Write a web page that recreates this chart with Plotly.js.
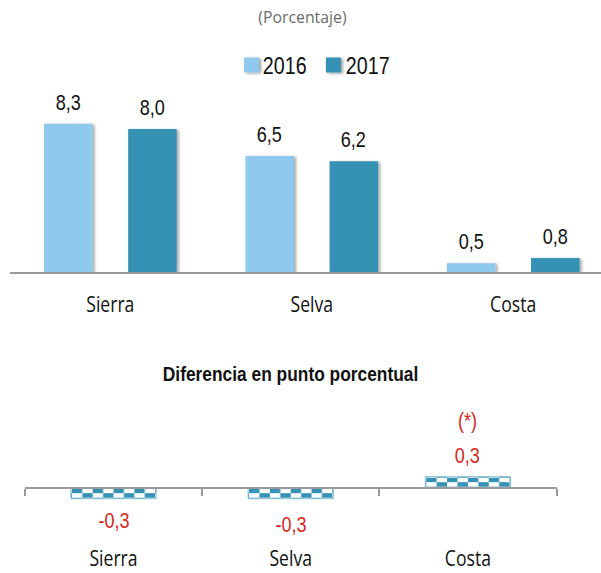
<!DOCTYPE html>
<html><head><meta charset="utf-8">
<script src="https://cdn.plot.ly/plotly-3.0.1.min.js"></script>
<style>html,body{margin:0;padding:0;background:#fff}#chart{width:601px;height:573px}</style>
</head><body><div id="chart"></div>
<script>
const regions = ['Sierra', 'Selva', 'Costa'];
const years = ['2016', '2017'];
const values2016 = [8.3, 6.5, 0.5];
const values2017 = [8.0, 6.2, 0.8];
const diffValues = [-0.3, -0.3, 0.3];
const diffNotes = ['', '', '(*)'];
const subtitle = '(Porcentaje)';
const diffTitle = 'Diferencia en punto porcentual';

const C16 = '#8FC9EE', C17 = '#3592B4', RED = '#D7261E';
const NUMF = '"Liberation Sans", Arial, sans-serif';
const CAT = '"Open Sans", sans-serif';
const H = 573, W = 601;
const fy = px => (H - px) / H, fx = px => px / W;
const fmt = v => v.toFixed(1).replace('.', ',');

const traces = [
  {type:'bar', name:years[0], x:regions, y:values2016, xaxis:'x', yaxis:'y',
   marker:{color:C16, line:{width:0}}, hoverinfo:'skip'},
  {type:'bar', name:years[1], x:regions, y:values2017, xaxis:'x', yaxis:'y',
   marker:{color:C17, line:{width:0}}, hoverinfo:'skip'},
  {type:'bar', name:'diff', x:regions, y:diffValues, xaxis:'x2', yaxis:'y2', showlegend:false,
   marker:{color:C17, line:{color:'#86C0D6', width:1}}, hoverinfo:'skip'}
];

const annotations = [], squeeze = [];
function addAnn(a, f){ annotations.push(a); squeeze.push(f); }
const off = 42.1;
[values2016, values2017].forEach((vals, k) => {
  vals.forEach((v, i) => addAnn({
    xref:'x', yref:'y', x:regions[i], y:v, xshift:(k===0?-off:off), yshift:21.5,
    yanchor:'middle', showarrow:false, text:fmt(v),
    font:{family:NUMF, size:22, color:'#111'}
  }, 0.82));
});
const diffShift = [-32.5, -37, 32];
diffValues.forEach((v, i) => {
  addAnn({xref:'x2', yref:'y2', x:regions[i], y:0, yshift:diffShift[i],
    yanchor:'middle', showarrow:false, text:fmt(v),
    font:{family:NUMF, size:22, color:RED}}, 0.82);
  if (diffNotes[i]) addAnn({xref:'x2', yref:'y2', x:regions[i], y:0, yshift:67,
    yanchor:'middle', showarrow:false, text:diffNotes[i],
    font:{family:NUMF, size:22, color:RED}}, 0.82);
});
addAnn({xref:'paper', yref:'paper', x:fx(302.8), y:fy(16.7), xanchor:'center', yanchor:'middle',
  showarrow:false, text:subtitle, font:{family:CAT, size:17, color:'#6b6b6b'}}, 0.93);
addAnn({xref:'paper', yref:'paper', x:fx(290.4), y:fy(373.5), xanchor:'center', yanchor:'middle',
  showarrow:false, text:'<b>'+diffTitle+'</b>', font:{family:NUMF, size:19.5, color:'#111'}}, 0.89);
// legend labels
const legTextX = [284.5, 367], legSqX = [251.5, 333.4], legY = 65;
years.forEach((yr, k) => addAnn({xref:'paper', yref:'paper', x:fx(legTextX[k]), y:fy(legY),
  xanchor:'center', yanchor:'middle', showarrow:false, text:yr,
  font:{family:NUMF, size:24, color:'#111'}}, 0.82));
const shapes = [C16, C17].map((c, k) => ({type:'rect', xref:'paper', yref:'paper',
  x0:fx(legSqX[k]-7.5), x1:fx(legSqX[k]+7.5), y0:fy(legY+7.5), y1:fy(legY-7.5),
  fillcolor:c, line:{width:0}}));

const zero2 = 487.7, unit2 = 36.7;
const layout = {
  width:W, height:H, margin:{l:0, r:0, t:0, b:0},
  paper_bgcolor:'#fff', plot_bgcolor:'rgba(0,0,0,0)',
  separators:',.', barmode:'group', bargap:0.164, bargroupgap:0.424,
  showlegend:false,
  xaxis:{domain:[fx(9.6), 1], range:[-0.5, 2.436], showline:true, linecolor:'#9a9a9a', linewidth:2,
    ticks:'', showgrid:false, zeroline:false, ticklabelstandoff:11,
    tickfont:{family:CAT, size:22, color:'#111'}, fixedrange:true},
  yaxis:{domain:[fy(272.3), fy(111.2)], range:[0, 9], visible:false, fixedrange:true},
  xaxis2:{domain:[fx(24.9), fx(556.5)], range:[-0.5, 2.5], anchor:'free', position:fy(zero2),
    showline:true, linecolor:'#9a9a9a', linewidth:2,
    ticks:'outside', tickson:'boundaries', ticklen:7, tickwidth:2, tickcolor:'#9a9a9a',
    showgrid:false, zeroline:false, ticklabelstandoff:51,
    tickfont:{family:CAT, size:22, color:'#111'}, fixedrange:true},
  yaxis2:{domain:[fy(zero2 + unit2*0.5), fy(zero2 - unit2*0.5)], range:[-0.5, 0.5], visible:false, fixedrange:true},
  annotations, shapes
};
layout.bargap = 0.164;

const gd = document.getElementById('chart');
Plotly.newPlot(gd, traces, layout, {staticPlot:true}).then(() => {
  const ns = 'http://www.w3.org/2000/svg';
  const sq = (el, f) => { const L = el.getComputedTextLength(); if (L > 0) {
    el.setAttribute('textLength', (L * f).toFixed(2)); el.setAttribute('lengthAdjust', 'spacingAndGlyphs'); } };
  gd.querySelectorAll('.xtick text, .x2tick text').forEach(t => sq(t, 0.8));
  gd.querySelectorAll('g.annotation').forEach(g => {
    const i = +g.getAttribute('data-index'); const t = g.querySelector('text');
    if (t && squeeze[i]) sq(t, squeeze[i]);
  });
  const svg = gd.querySelector('svg.main-svg');
  const defs = svg.querySelector('defs');
  const filt = document.createElementNS(ns, 'filter');
  filt.setAttribute('id', 'barshadow');
  ['x','y','width','height'].forEach((a, j) => filt.setAttribute(a, ['-20%','-20%','150%','150%'][j]));
  const fe = document.createElementNS(ns, 'feDropShadow');
  fe.setAttribute('dx', '2'); fe.setAttribute('dy', '1'); fe.setAttribute('stdDeviation', '1.4');
  fe.setAttribute('flood-color', '#000'); fe.setAttribute('flood-opacity', '0.38');
  filt.appendChild(fe); defs.appendChild(filt);
  gd.querySelectorAll('.subplot.xy .barlayer .point path').forEach(p => p.setAttribute('filter', 'url(#barshadow)'));
  gd.querySelectorAll('.shapelayer path').forEach(p => p.setAttribute('filter', 'url(#barshadow)'));
  // checkerboard fill for difference bars
  gd.querySelectorAll('.subplot.x2y2 .barlayer .point path').forEach((p, i) => {
    const bb = p.getBBox();
    const cw = (bb.width - 2) / 8, ch = (bb.height - 2) / 2;
    const pat = document.createElementNS(ns, 'pattern');
    pat.setAttribute('id', 'chk' + i); pat.setAttribute('patternUnits', 'userSpaceOnUse');
    pat.setAttribute('x', bb.x + 1); pat.setAttribute('y', bb.y + 1);
    pat.setAttribute('width', 2 * cw); pat.setAttribute('height', 2 * ch);
    const mk = (x, y, w, h, c) => { const r = document.createElementNS(ns, 'rect');
      r.setAttribute('x', x); r.setAttribute('y', y); r.setAttribute('width', w); r.setAttribute('height', h);
      r.setAttribute('fill', c); pat.appendChild(r); };
    mk(0, 0, 2 * cw, 2 * ch, C17); mk(cw, 0, cw, ch, '#fff'); mk(0, ch, cw, ch, '#fff');
    defs.appendChild(pat);
    p.style.fill = 'url(#chk' + i + ')';
  });
});
</script></body></html>
